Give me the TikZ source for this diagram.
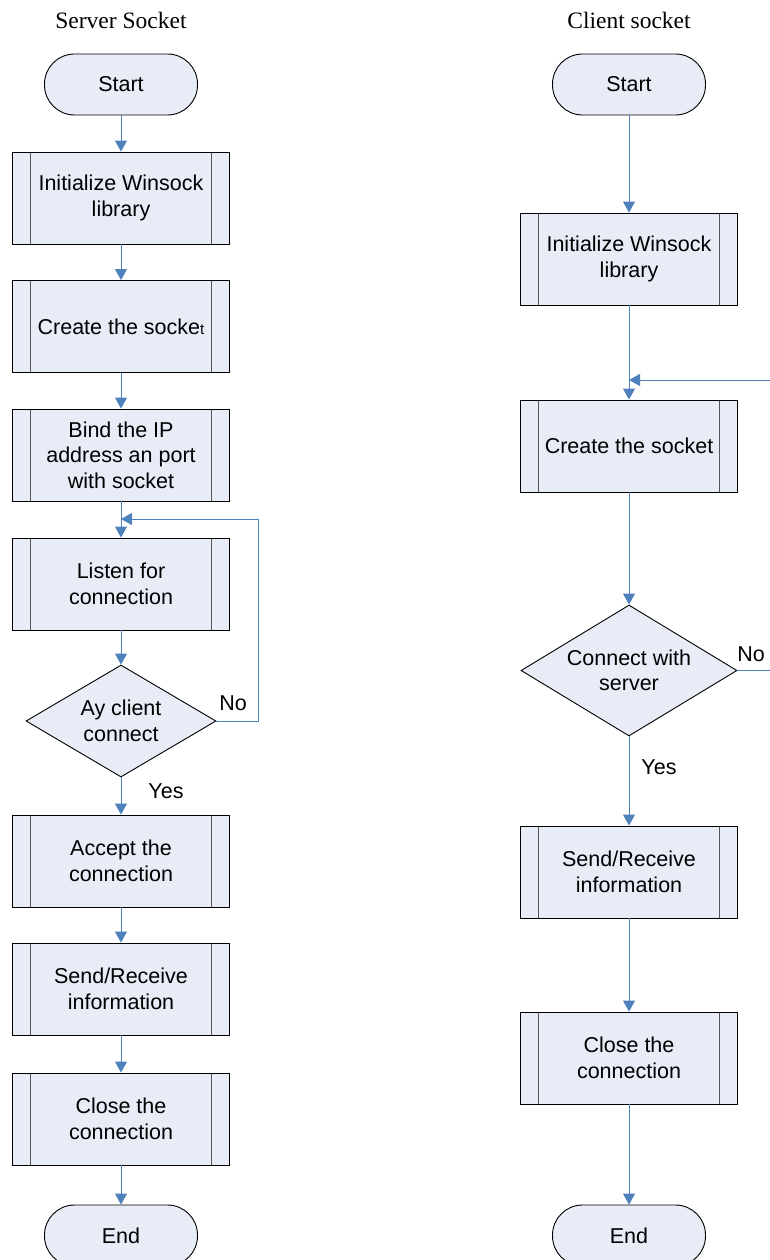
\documentclass[tikz,border=0pt]{standalone}
\usepackage{fontspec}
\setmainfont{Liberation Serif}
\setsansfont{Liberation Sans}
\usetikzlibrary{shapes.geometric,arrows.meta}
\definecolor{boxfill}{RGB}{231,236,247}
\definecolor{arrowblue}{RGB}{79,129,189}
\definecolor{innergray}{RGB}{85,85,85}
\tikzset{
 base/.style={draw=black, line width=0.9pt, fill=boxfill, font=\sffamily\fontsize{21.5}{25.5}\selectfont, align=center, inner sep=0pt},
 terminal/.style={base, rectangle, rounded corners=30pt, minimum width=153pt, minimum height=61pt},
 process/.style={base, rectangle, minimum width=217pt, minimum height=92pt,
   path picture={
     \draw[innergray,line width=0.9pt] ([xshift=18pt]path picture bounding box.north west) -- ([xshift=18pt]path picture bounding box.south west);
     \draw[innergray,line width=0.9pt] ([xshift=-18pt]path picture bounding box.north east) -- ([xshift=-18pt]path picture bounding box.south east);}},
 decision/.style={base, diamond},
 flow/.style={draw=arrowblue, line width=1pt, -{Triangle[width=12pt,length=11pt]}},
 title/.style={font=\fontsize{23.5}{27}\selectfont, inner sep=0pt},
 lbl/.style={font=\sffamily\fontsize{21.5}{25.5}\selectfont, inner sep=0pt}
}
\begin{document}
\begin{tikzpicture}[x=1pt,y=-1pt]
\useasboundingbox (0,0) rectangle (770,1260);
% titles
\node[title] (t1) at (121,20) {Server Socket};
\node[title] (t2) at (629,20) {Client socket};
% left column
\node[terminal] (s1) at (121,84.5) {Start};
\node[process] (i1) at (121,198) {Initialize Winsock\\library};
\node[process] (c1) at (121,326.5) {Create the socke{\fontsize{15}{15}\selectfont t}};
\node[process] (b1) at (121,455) {Bind the IP\\address an port\\with socket};
\node[process] (l1) at (121,584) {Listen for\\connection};
\node[decision, minimum width=190pt, minimum height=112pt, aspect=1.7] (d1) at (121,721) {Ay client\\connect};
\node[process] (a1) at (121,861) {Accept the\\connection};
\node[process] (r1) at (121,989) {Send/Receive\\information};
\node[process] (e1) at (121,1119) {Close the\\connection};
\node[terminal] (n1) at (121,1235.5) {End};
\coordinate (lj) at (121,519);
\coordinate (lc) at (258,519);
\draw[flow] (s1.south) -- (i1.north);
\draw[flow] (i1.south) -- (c1.north);
\draw[flow] (c1.south) -- (b1.north);
\draw[flow] (b1.south) -- (l1.north);
\draw[flow] (l1.south) -- (d1.north);
\draw[flow] (d1.south) -- (a1.north);
\draw[flow] (a1.south) -- (r1.north);
\draw[flow] (r1.south) -- (e1.north);
\draw[flow] (e1.south) -- (n1.north);
\draw[flow] (d1.east) -| (lc) -- (lj);
\node[lbl] (no1) at (233,703) {No};
\node[lbl] (yes1) at (166,791) {Yes};
% right column
\node[terminal] (s2) at (629,84.5) {Start};
\node[process] (i2) at (629,259) {Initialize Winsock\\library};
\node[process] (c2) at (629,446) {Create the socket};
\node[decision, minimum width=216pt, minimum height=131pt, aspect=1.65] (d2) at (629,670.5) {Connect with\\server};
\node[process] (r2) at (629,872) {Send/Receive\\information};
\node[process] (e2) at (629,1058) {Close the\\connection};
\node[terminal] (n2) at (629,1235.5) {End};
\coordinate (rj) at (629,380);
\coordinate (rc) at (771,380);
\draw[flow] (s2.south) -- (i2.north);
\draw[flow] (i2.south) -- (c2.north);
\draw[flow] (c2.south) -- (d2.north);
\draw[flow] (d2.south) -- (r2.north);
\draw[flow] (r2.south) -- (e2.north);
\draw[flow] (e2.south) -- (n2.north);
\draw[flow] (d2.east) -| (rc) -- (rj);
\node[lbl] (no2) at (751,654) {No};
\node[lbl] (yes2) at (659,767) {Yes};
\end{tikzpicture}
\end{document}
